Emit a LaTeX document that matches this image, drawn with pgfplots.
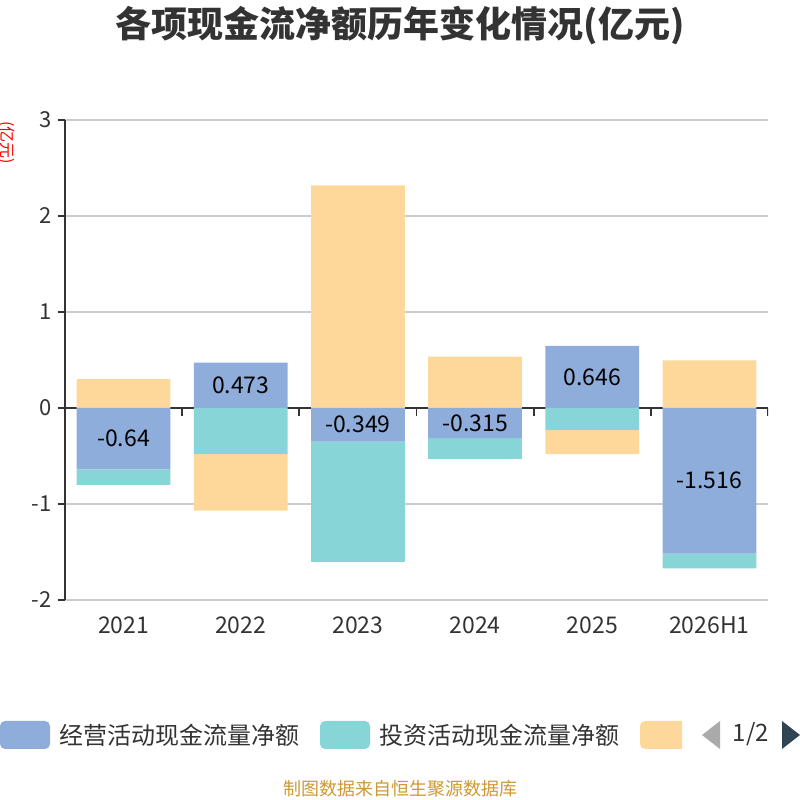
\documentclass[border=0pt]{standalone}
\usepackage{fontspec}
\setmainfont{Noto Sans CJK SC}
\usepackage{pgfplots}
\pgfplotsset{compat=1.18}
\usepackage{pgfplotstable}

\definecolor{cop}{RGB}{143,173,219}
\definecolor{cinv}{RGB}{135,213,215}
\definecolor{cfin}{RGB}{254,216,154}
\definecolor{ctxt}{RGB}{51,51,51}
\definecolor{cgrid}{RGB}{204,204,204}
\definecolor{csrc}{RGB}{204,153,51}
\definecolor{cnav}{RGB}{47,69,84}
\definecolor{cnavoff}{RGB}{170,170,170}

% x: category index; op/inv/fin: net cash flows (100M CNY)
\pgfplotstableread{
x op inv fin oppos invpos finpos opneg invneg finneg lab
0 -0.64 -0.16 0.30 0 0 0.30 -0.64 -0.16 0 -0.64
1 0.473 -0.48 -0.59 0.473 0 0 0 -0.48 -0.59 0.473
2 -0.349 -1.255 2.32 0 0 2.32 -0.349 -1.255 0 -0.349
3 -0.315 -0.215 0.535 0 0 0.535 -0.315 -0.215 0 -0.315
4 0.646 -0.23 -0.25 0.646 0 0 0 -0.23 -0.25 0.646
5 -1.516 -0.155 0.495 0 0 0.495 -1.516 -0.155 0 -1.516
}\data

\pgfplotsset{base/.style={at={(65pt,200pt)}, anchor=south west,
  scale only axis, width=703pt, height=480pt,
  xmin=-0.5, xmax=5.5, ymin=-2, ymax=3}}

\begin{document}
\begin{tikzpicture}[x=1pt,y=1pt]
\path[use as bounding box] (0,0) rectangle (800,800);

% background axis: grid, ticks, labels
\begin{axis}[base,
  axis y line=left, axis x line=bottom,
  y axis line style={-, color=ctxt, line width=1.5pt},
  x axis line style={draw=none},
  xtick={0,1,2,3,4,5},
  xticklabels={2021,2022,2023,2024,2025,2026H1},
  xtick style={draw=none},
  ytick={-2,-1,0,1,2,3},
  yticklabels={-2,-1,0,1,2,3},
  ytick style={color=ctxt, line width=1.5pt},
  tick align=outside, major tick length=7pt,
  ymajorgrids, grid style={color=cgrid, line width=1.5pt},
  yticklabel style={font=\fontsize{22}{26}\selectfont, color=ctxt, xshift=-3pt},
  xticklabel style={font=\fontsize{23}{27}\selectfont, color=ctxt, yshift=-6pt},
]
\draw[color=ctxt, line width=1.8pt] (axis cs:-0.5,0) -- (axis cs:5.5,0);
\pgfplotsinvokeforeach{0.5,1.5,2.5,3.5,4.5,5.5}{
  \draw[color=ctxt, line width=1.8pt] (axis cs:#1,0) -- ([yshift=-8pt]axis cs:#1,0);
}
\end{axis}

% positive stack
\begin{axis}[base, hide axis, ybar stacked, bar width=0.8]
\addplot[fill=cop, draw=none] table[x=x, y=oppos] {\data};
\addplot[fill=cinv, draw=none] table[x=x, y=invpos] {\data};
\addplot[fill=cfin, draw=none] table[x=x, y=finpos] {\data};
\end{axis}

% negative stack
\begin{axis}[base, hide axis, ybar stacked, bar width=0.8]
\addplot[fill=cop, draw=none] table[x=x, y=opneg] {\data};
\addplot[fill=cinv, draw=none] table[x=x, y=invneg] {\data};
\addplot[fill=cfin, draw=none] table[x=x, y=finneg] {\data};
\end{axis}

% value labels on operating cash flow
\begin{axis}[base, hide axis]
\addplot[draw=none, mark=none, nodes near coords, point meta=explicit symbolic,
  every node near coord/.append style={anchor=center, font=\fontsize{23}{26}\selectfont, color=black}]
  table[x=x, y expr=\thisrow{op}/2, meta=lab] {\data};
\end{axis}

% title
\node[font=\fontsize{36}{42}\selectfont\bfseries, color=ctxt] at (400,774) {各项现金流净额历年变化情况(亿元)};
% unit label
\node[rotate=-90, color=red, font=\fontsize{16}{18}\selectfont] at (7,657) {(亿元)};

% legend
\fill[cop, rounded corners=5pt] (0,51) rectangle (50,79);
\node[anchor=west, color=ctxt, font=\fontsize{24}{27}\selectfont, inner sep=0pt] at (59,65) {经营活动现金流量净额};
\fill[cinv, rounded corners=5pt] (320,51) rectangle (370,79);
\node[anchor=west, color=ctxt, font=\fontsize{24}{27}\selectfont, inner sep=0pt] at (379,65) {投资活动现金流量净额};
\begin{scope}
\clip (640,40) rectangle (682,90);
\fill[cfin, rounded corners=5pt] (640,51) rectangle (700,79);
\end{scope}
\fill[cnavoff] (702,65) -- (720,79) -- (720,51) -- cycle;
\node[color=ctxt, font=\fontsize{24}{27}\selectfont, inner sep=0pt] at (751,66) {1/2};
\fill[cnav] (782,51) -- (800,65) -- (782,79) -- cycle;

% source
\node[color=csrc, font=\fontsize{18}{20}\selectfont] at (400,11) {制图数据来自恒生聚源数据库};
\end{tikzpicture}
\end{document}
